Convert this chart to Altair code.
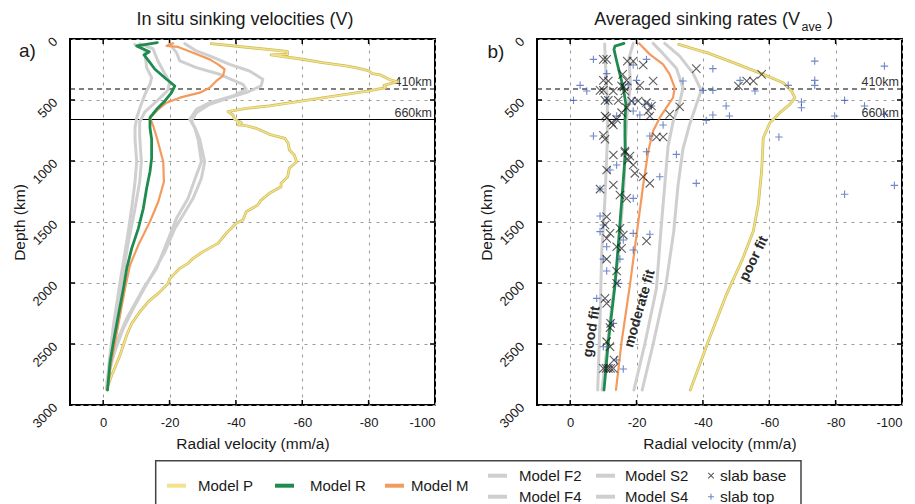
import altair as alt
import pandas as pd

FONT = "Liberation Sans"

# ---------------------------------------------------------------------------
# Panel (a): in situ sinking velocities, depth (km) vs radial velocity (mm/a)
# ---------------------------------------------------------------------------
A_P_DEPTH = [38, 98, 104, 125, 131, 166, 194, 221, 235, 262, 284, 295, 330, 352, 380, 399, 407, 426, 467,
             508, 549, 568, 595, 623, 658, 685, 704, 707, 732, 781, 815, 856, 910, 951, 1006, 1060, 1129,
             1183, 1211, 1265, 1320, 1361, 1416, 1484, 1511, 1593, 1675, 1743, 1798, 1839, 1880, 1962,
             2003, 2085, 2153, 2235, 2331, 2426, 2590, 2754, 2864]
A_P_VEL = [-32.6, -54.0, -55.6, -55.6, -50.6, -60.1, -66.1, -73.1, -76.1, -80.1, -81.1, -83.6, -86.1, -88.6,
           -84.6, -85.1, -83.6, -80.1, -70.1, -60.1, -50.1, -43.1, -37.6, -39.1, -39.6, -41.6, -40.6, -42.6,
           -46.1, -50.1, -54.8, -55.8, -56.1, -57.6, -58.3, -56.1, -55.6, -53.6, -53.6, -50.1, -47.6,
           -46.6, -43.1, -42.1, -40.1, -37.1, -34.6, -30.1, -27.1, -25.6, -23.1, -20.1, -19.6, -16.6,
           -13.6, -11.1, -8.6, -7.1, -5.1, -2.6, -1.1]

A_R_DEPTH = [30, 57, 104, 131, 175, 248, 330, 385, 440, 508, 576, 645, 727, 822, 978, 1088, 1224, 1388,
             1552, 1716, 1880, 2044, 2262, 2481, 2645, 2877]
A_R_VEL = [-16.3, -10.1, -13.9, -12.3, -13.6, -15.6, -19.1, -21.6, -20.6, -18.6, -16.1, -14.1, -14.1,
           -14.6, -14.6, -14.1, -13.1, -12.1, -10.6, -8.6, -7.1, -6.1, -4.6, -3.1, -2.1, -1.3]

A_M_DEPTH = [35, 57, 65, 112, 167, 208, 248, 303, 344, 399, 440, 481, 522, 576, 645, 713, 822, 1006,
             1170, 1334, 1497, 1689, 1853, 2044, 2262, 2481, 2700, 2877]
A_M_VEL = [-21.1, -19.1, -22.6, -27.1, -32.1, -34.6, -36.6, -36.1, -34.1, -32.1, -29.1, -23.1, -19.1,
           -16.6, -14.1, -15.1, -16.3, -18.1, -18.3, -16.6, -14.1, -10.6, -8.1, -6.6, -5.1, -3.6, -2.1, -1.3]

A_F2_DEPTH = [45, 90, 160, 235, 317, 371, 453, 563, 645, 727, 822, 1006, 1170, 1388, 1661, 1989, 2344,
              2700, 2870]
A_F2_VEL = [-9.5, -12.5, -12.8, -13.1, -14.6, -14.1, -12.6, -11.1, -10.1, -9.6, -9.6, -10.1, -9.6, -8.6,
            -7.1, -5.1, -3.1, -1.6, -1.0]

A_F4_DEPTH = [40, 80, 180, 280, 350, 420, 500, 600, 680, 780, 842, 1006, 1170, 1388, 1661, 1989, 2344,
              2700, 2870]
A_F4_VEL = [-11.0, -15.0, -16.5, -18.5, -20.0, -19.5, -16.5, -12.5, -11.0, -11.0, -11.1, -11.5, -11.0,
            -9.6, -7.6, -5.6, -3.4, -1.8, -1.1]

A_S2_DEPTH = [38, 98, 139, 208, 262, 330, 385, 440, 481, 535, 604, 672, 754, 822, 1006, 1142, 1306, 1443,
              1552, 1743, 1962, 2208, 2371, 2590, 2809]
A_S2_VEL = [-24.6, -28.1, -32.1, -38.1, -44.1, -48.1, -47.6, -43.1, -38.1, -32.1, -28.1, -26.6, -28.1,
            -29.1, -30.6, -29.6, -27.1, -24.1, -21.6, -18.6, -14.1, -9.1, -6.1, -3.1, -1.1]

A_S4_DEPTH = [44, 112, 180, 235, 289, 371, 412, 467, 522, 576, 658, 727, 822, 1006, 1115, 1306, 1470,
              1607, 1880, 2044, 2290, 2481, 2754]
A_S4_VEL = [-20.1, -22.1, -23.1, -28.1, -35.1, -42.1, -43.1, -39.1, -32.1, -28.1, -26.1, -27.6, -28.6,
            -29.6, -28.1, -25.6, -22.1, -20.1, -16.1, -12.1, -7.1, -4.1, -1.6]

# ---------------------------------------------------------------------------
# Panel (b): averaged sinking rates
# ---------------------------------------------------------------------------
B_P_DEPTH = [44, 98, 112, 194, 290, 358, 426, 481, 536, 604, 686, 809, 1082, 1355, 1574, 1800, 2100,
             2450, 2877]
B_P_VEL = [-32.7, -39.2, -41.2, -49.2, -58.2, -64.2, -66.7, -67.7, -66.2, -63.2, -60.2, -58.2, -57.7,
           -56.7, -55.2, -52.0, -47.0, -42.0, -36.2]

B_R_DEPTH = [36, 58, 85, 180, 290, 400, 536, 672, 809, 924, 1088, 1334, 1689, 2017, 2481, 2877]
B_R_VEL = [-16.2, -13.5, -13.2, -14.0, -15.0, -16.0, -16.8, -16.5, -16.5, -16.6, -16.2, -15.5, -14.5,
           -13.5, -11.5, -10.2]

B_M_DEPTH = [36, 126, 208, 290, 399, 481, 563, 645, 754, 864, 924, 1197, 1607, 2017, 2481, 2877]
B_M_VEL = [-20.8, -24.0, -28.0, -30.0, -31.5, -31.0, -29.0, -27.0, -25.0, -24.0, -23.5, -22.0, -20.0,
           -18.0, -15.5, -13.8]

B_F2_DEPTH = [40, 240, 500, 840, 1300, 1750, 2300, 2877]
B_F2_VEL = [-10.4, -10.7, -11.2, -11.2, -10.5, -9.5, -9.0, -8.3]

B_F4_DEPTH = [36, 159, 377, 596, 842, 1197, 1743, 2200, 2600, 2877]
B_F4_VEL = [-19.0, -17.7, -18.2, -17.2, -16.7, -16.2, -14.7, -12.5, -10.8, -9.6]

B_S2_DEPTH = [36, 120, 240, 400, 520, 680, 880, 1200, 1580, 2044, 2500, 2877]
B_S2_VEL = [-25.0, -28.0, -32.0, -34.0, -33.0, -31.0, -29.5, -28.5, -27.3, -26.0, -22.5, -19.2]

B_S4_DEPTH = [36, 140, 280, 420, 540, 700, 900, 1200, 1580, 2044, 2500, 2877]
B_S4_VEL = [-28.5, -33.0, -37.0, -39.5, -38.0, -36.0, -34.0, -32.5, -31.2, -28.7, -25.0, -21.7]

# Slab base (x) and slab top (+) observations
BASE_VEL = [-10, -11, -17.2, -19, -22, -38, -15.8, -10, -11.5, -17, -25, -15.5, -16.2, -21, -9, -10, -13,
            -16.5, -10.5, -11.5, -14.5, -18.5, -20.5, -23, -24.5, -17, -33, -23.5, -15.5, -30, -10.5, -11,
            -24, -14, -12.5, -13, -10, -10.5, -26, -28, -16.5, -50.7, -53.2, -55.2, -57.7,
            -16.5, -18, -13, -17.5, -19, -19.5, -11, -22, -24, -13, -9, -15, -17, -11, -10.5, -15, -12,
            -11, -16, -23, -14, -15.5, -11, -14, -14,
            -10.5, -11, -12.2, -12, -11, -12, -13.2, -10, -10.8, -11.5, -12.2, -13]
BASE_DEPTH = [167, 167, 181, 181, 213, 243, 290, 339, 344, 339, 344, 386, 392, 380, 421, 421, 426,
              426, 503, 503, 503, 508, 508, 522, 549, 563, 555, 590, 604, 618, 631, 645,
              631, 659, 686, 705, 790, 822, 803, 803, 918, 385, 344, 344, 290,
              930, 960, 951, 992, 1033, 1101, 1074, 1129, 1183, 1197, 1230, 1279, 1306, 1457, 1525, 1552,
              1593, 1634, 1607, 1656, 1703, 1716, 1804, 1902, 2003,
              2126, 2167, 2331, 2366, 2481, 2522, 2631, 2700, 2700, 2700, 2700, 2700]

TOP_VEL = [-7, -23, -19, -43, -11, -20, -34, -3, -5, -17.5, -40, -43, -1, -19, -11, -22.5, -24.5, -19,
           -21, -14, -43, -41, -28, -7, -24,
           -73.7, -94.7, -51.2, -73.7, -73.7, -55.7, -65.7, -69.7, -69.7, -82.7, -88.7, -47, -48,
           -79.7, -94.7, -62.9, -82.7, -97.7,
           -23, -32, -14, -12, -27, -38, -9, -19, -9, -10, -9, -19, -24, -16, -11, -19, -10, -15, -11,
           -14.5, -8, -13, -10, -14, -16]
TOP_DEPTH = [167, 167, 213, 243, 284, 339, 344, 380, 426, 375, 421, 421, 503, 508, 503, 535, 549, 590,
             623, 631, 623, 667, 705, 795, 795,
             181, 222, 339, 339, 380, 426, 380, 517, 563, 503, 549, 549, 631,
             631, 618, 803, 1273, 1200,
             924, 946, 1033, 1074, 1129, 1183, 1230, 1306, 1451, 1525, 1579, 1593, 1601, 1648, 1703,
             1730, 1804, 1804, 1902, 2003, 2126, 2331, 2522, 2631, 2705]

# Fit annotations in panel (b)
FIT_LABELS = ["good fit", "moderate fit", "poor fit"]
FIT_VEL = [-6.5, -21.0, -55.4]
FIT_DEPTH = [2399, 2210, 1800]
FIT_ANGLE = [279, 286, 296]

X_TICKS = [0, -20, -40, -60, -80, -100]
Y_TICKS = [0, 500, 1000, 1500, 2000, 2500, 3000]
DISC_DEPTH = [410, 660]
DISC_LABEL = ["410km", "660km"]

# colours
YELLOW, YELLOW_EDGE = "#f2e28e", "#cfbc58"
GREEN = "#1e8b4f"
ORANGE = "#f49a5d"
GRAY = "#cfcfcf"
BLUE = "#3557b0"
INK = "#1a1a1a"

W, H = 365, 366
X_SHAPE = "M-1,-1L1,1M-1,1L1,-1"
PLUS_SHAPE = "M-1,0L1,0M0,-1L0,1"
TITLE_SIZE = 18

x_enc = alt.X(
    "vel:Q",
    scale=alt.Scale(domain=[-100, 10], reverse=True, nice=False, zero=False),
    axis=alt.Axis(values=X_TICKS,
                  labelExpr="datum.value < 0 ? '-' + (-datum.value) : '' + datum.value",
                  title="Radial velocity (mm/a)", grid=True, gridDash=[3, 5], gridColor="#9a9a9a",
                  gridWidth=1, ticks=False, domain=False, labelFontSize=13, labelPadding=11,
                  labelColor=INK, titleColor=INK, titleFontSize=15.5, titleFontWeight="normal",
                  titleY=38, titleBaseline="middle"),
)
y_enc = alt.Y(
    "depth:Q",
    scale=alt.Scale(domain=[0, 3000], reverse=True, nice=False, zero=False),
    axis=alt.Axis(values=Y_TICKS, format="d", grid=True, gridDash=[3, 5], gridColor="#9a9a9a",
                  gridWidth=1, ticks=False, domain=False, labelFontSize=13, labelAngle=315,
                  labelAlign="right", labelBaseline="middle", labelPadding=15, labelColor=INK,
                  title="Depth (km)", titleColor=INK, titleFontSize=15.5, titleFontWeight="normal",
                  titleX=-51, titleY=H / 2, titleAngle=270, titleAlign="center",
                  titleBaseline="middle"),
)


def series_frame(series):
    rows = []
    for name, depth, vel in series:
        for i, (d, v) in enumerate(zip(depth, vel)):
            rows.append({"model": name, "i": i, "depth": d, "vel": v})
    return pd.DataFrame(rows)


def line(df, color, width):
    return alt.Chart(df).mark_line(color=color, strokeWidth=width, strokeJoin="round",
                                   strokeCap="round").encode(
        x=x_enc, y=y_enc, detail="model:N", order="i:Q")


def one_row():
    return pd.DataFrame({"k": [0]})


def text_at(txt, x, y, size, **kw):
    return alt.Chart(one_row()).mark_text(text=txt, fontSize=size, color=INK, **kw).encode(
        x=alt.value(x), y=alt.value(y))


def frame_layers():
    xt = pd.DataFrame({"vel": X_TICKS[1:-1] + [0]})
    yt = pd.DataFrame({"depth": Y_TICKS[1:-1]})
    tick = dict(color="black", strokeWidth=1.5)
    layers = [
        alt.Chart(xt).mark_rule(**tick).encode(x=x_enc, y=alt.value(0), y2=alt.value(5)),
        alt.Chart(xt).mark_rule(**tick).encode(x=x_enc, y=alt.value(H), y2=alt.value(H - 5)),
        alt.Chart(yt).mark_rule(**tick).encode(y=y_enc, x=alt.value(0), x2=alt.value(5)),
        alt.Chart(yt).mark_rule(**tick).encode(y=y_enc, x=alt.value(W), x2=alt.value(W - 5)),
    ]
    disc = pd.DataFrame({"depth": DISC_DEPTH, "label": DISC_LABEL})
    layers.append(alt.Chart(disc.iloc[[0]]).mark_rule(color="black", strokeWidth=1.2,
                                                      strokeDash=[5, 4]).encode(y=y_enc))
    layers.append(alt.Chart(disc.iloc[[1]]).mark_rule(color="black", strokeWidth=1.2).encode(y=y_enc))
    layers.append(alt.Chart(disc).mark_text(align="right", baseline="middle", dy=-7, fontSize=12.5,
                                            color="#333333").encode(
        y=y_enc, x=alt.value(W - 3), text="label:N"))
    return layers


def model_layers(gray_series, p, m, r):
    return [
        line(series_frame(gray_series), GRAY, 3),
        line(series_frame([p]), YELLOW_EDGE, 2.8),
        line(series_frame([p]), YELLOW, 1.4),
        line(series_frame([m]), ORANGE, 2.2),
        line(series_frame([r]), GREEN, 2.8),
    ]


# ---------------- panel (a)
a_layers = frame_layers() + model_layers(
    [("Model F2", A_F2_DEPTH, A_F2_VEL), ("Model F4", A_F4_DEPTH, A_F4_VEL),
     ("Model S2", A_S2_DEPTH, A_S2_VEL), ("Model S4", A_S4_DEPTH, A_S4_VEL)],
    ("Model P", A_P_DEPTH, A_P_VEL), ("Model M", A_M_DEPTH, A_M_VEL), ("Model R", A_R_DEPTH, A_R_VEL))

a_layers += [
    text_at("In situ sinking velocities (V)", 175, -19, TITLE_SIZE),
    text_at("a)", -42.5, 11.7, 19),
    # invisible anchor fixing the page's top-left corner
    alt.Chart(one_row()).mark_rule(opacity=0, strokeWidth=0).encode(
        x=alt.value(-69), x2=alt.value(-69), y=alt.value(-37.3), y2=alt.value(-37.3)),
]

# legend box below both panels
LEG_LINE_LABELS = ["Model P", "Model R", "Model M", "Model F2", "Model F4", "Model S2", "Model S4"]
LEG_LINE_COLORS = [YELLOW, GREEN, ORANGE, GRAY, GRAY, GRAY, GRAY]
ox, oy = 69, 37.3
row_mid, row_top, row_bot = 484 - oy, 474 - oy, 495 - oy
leg_slots = [(166, 197, row_mid), (274, 309, row_mid), (384, 410, row_mid), (487, 518, row_top),
             (487, 518, row_bot), (595, 624, row_top), (595, 624, row_bot)]
a_layers.append(alt.Chart(one_row()).mark_rect(fill="white", stroke="#444444", strokeWidth=1.5).encode(
    x=alt.value(154.7 - ox), x2=alt.value(800 - ox), y=alt.value(459 - oy), y2=alt.value(520 - oy)))
for lab, col, (sx, tx, ry) in zip(LEG_LINE_LABELS, LEG_LINE_COLORS, leg_slots):
    a_layers.append(alt.Chart(one_row()).mark_rule(color=col, strokeWidth=4).encode(
        x=alt.value(sx - ox), x2=alt.value(sx + 19 - ox), y=alt.value(ry), y2=alt.value(ry)))
    a_layers.append(text_at(lab, tx - ox, ry, 15, align="left", baseline="middle"))
a_layers.append(alt.Chart(one_row()).mark_point(shape=X_SHAPE, filled=False, size=30, color=INK,
                                                strokeWidth=1.1).encode(
    x=alt.value(710 - ox), y=alt.value(row_top)))
a_layers.append(alt.Chart(one_row()).mark_point(shape=PLUS_SHAPE, filled=False, size=36, color=BLUE,
                                                strokeWidth=1.1).encode(
    x=alt.value(710 - ox), y=alt.value(row_bot)))
a_layers.append(text_at("slab base", 719 - ox, row_top, 15.5, align="left", baseline="middle"))
a_layers.append(text_at("slab top", 719 - ox, row_bot, 15.5, align="left", baseline="middle"))

panel_a = alt.layer(*a_layers).properties(width=W, height=H)

# ---------------- panel (b)
b_layers = frame_layers() + model_layers(
    [("Model F2", B_F2_DEPTH, B_F2_VEL), ("Model F4", B_F4_DEPTH, B_F4_VEL),
     ("Model S2", B_S2_DEPTH, B_S2_VEL), ("Model S4", B_S4_DEPTH, B_S4_VEL)],
    ("Model P", B_P_DEPTH, B_P_VEL), ("Model M", B_M_DEPTH, B_M_VEL), ("Model R", B_R_DEPTH, B_R_VEL))

base_df = pd.DataFrame({"vel": BASE_VEL, "depth": BASE_DEPTH})
top_df = pd.DataFrame({"vel": TOP_VEL, "depth": TOP_DEPTH})
b_layers += [
    alt.Chart(top_df).mark_point(shape=PLUS_SHAPE, filled=False, size=56, color=BLUE,
                                 strokeWidth=1.1).encode(x=x_enc, y=y_enc),
    alt.Chart(base_df).mark_point(shape=X_SHAPE, filled=False, size=70, color=INK,
                                  strokeWidth=1.1).encode(x=x_enc, y=y_enc),
]
for lab, v, d, ang in zip(FIT_LABELS, FIT_VEL, FIT_DEPTH, FIT_ANGLE):
    fit_df = pd.DataFrame({"vel": [v], "depth": [d], "label": [lab]})
    b_layers.append(alt.Chart(fit_df).mark_text(angle=ang, fontSize=14, fontWeight="bold",
                                                color="#2a2a2a").encode(
        x=x_enc, y=y_enc, text="label:N"))
b_layers += [
    text_at("Averaged sinking rates (V", 263, -19, TITLE_SIZE, align="right"),
    text_at("ave", 264.5, -12.5, 12.5, align="left"),
    text_at(")", 290, -19, TITLE_SIZE, align="left"),
    text_at("b)", -41, 12.7, 19),
]
panel_b = alt.layer(*b_layers).properties(width=W, height=H)

chart = alt.hconcat(panel_a, panel_b, spacing=102, bounds="flush", padding=0).configure(
    font=FONT).configure_view(stroke="black", strokeWidth=2)

chart.save("out.html", embed_options={"renderer": "svg", "actions": False})
